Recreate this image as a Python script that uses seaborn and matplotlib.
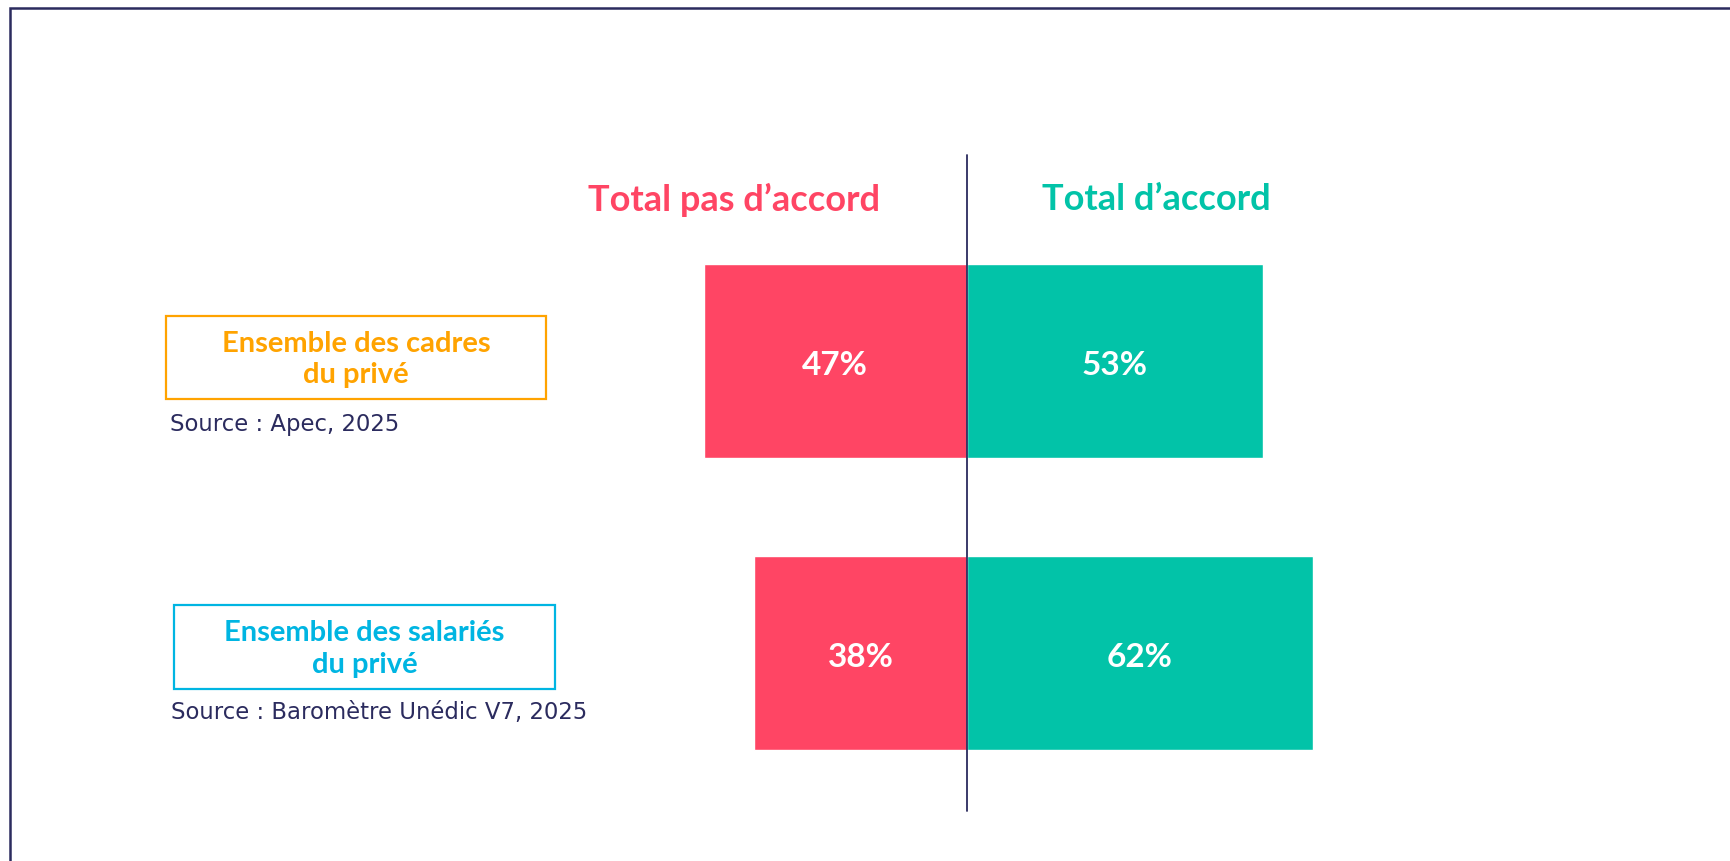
import numpy as np
import pandas as pd
import seaborn as sns
import matplotlib.pyplot as plt
from matplotlib.patches import Rectangle

# Data
groups = ["Ensemble des cadres\ndu privé", "Ensemble des salariés\ndu privé"]
sources = ["Source : Apec, 2025", "Source : Baromètre Unédic V7, 2025"]
disagree = [47, 38]
agree = [53, 62]
headers = ["Total pas d’accord", "Total d’accord"]

# Colours
RED = "#FF4564"
GREEN = "#02C3A8"
NAVY = "#2B2B5E"
GROUP_COLORS = ["#FFA300", "#00B5E2"]

W, H = 1730, 862
sns.set_theme(style="white")
plt.rcParams['font.family'] = ['Lato', 'DejaVu Sans']

fig = plt.figure(figsize=(W / 100, H / 100), dpi=100)
fig.patch.set_facecolor("white")
ax = fig.add_axes([0, 0, 1, 1])

df = pd.DataFrame({"group": groups, "disagree": disagree, "agree": agree})
df["neg"] = -df["disagree"]

bar_w = 0.664
sns.barplot(data=df, x="neg", y="group", color=RED, width=bar_w,
            saturation=1, ax=ax, orient="h")
sns.barplot(data=df, x="agree", y="group", color=GREEN, width=bar_w,
            saturation=1, ax=ax, orient="h")

# scale: 0 at x=966.5 px, 5.585 px per percent; bars centred at 362 / 654 px
px_per = 5.585
x0 = 966.5
ax.set_xlim(-x0 / px_per, (W - x0) / px_per)
ax.set_ylim((H - 362) / 292, -362 / 292)
ax.axis("off")

# value labels inside bars
for i, (d, a) in enumerate(zip(disagree, agree)):
    ax.text(-d / 2, i + 0.012, f"{d}%", color="white", fontsize=24,
            fontweight="bold", ha="center", va="center")
    ax.text(a / 2, i + 0.012, f"{a}%", color="white", fontsize=24,
            fontweight="bold", ha="center", va="center")

# central axis line
ax.axvline(0, ymin=1 - 812 / H, ymax=1 - 156 / H, color=NAVY, lw=1.3)

# column headers
fig.text(734 / W, 1 - 200 / H, headers[0], color=RED, fontsize=26,
         fontweight="bold", ha="center", va="center")
fig.text(1156 / W, 1 - 200 / H, headers[1], color=GREEN, fontsize=26,
         fontweight="bold", ha="center", va="center")

# group boxes and sources
boxes = [(165.7, 317, 546, 400), (174, 606, 555, 690)]
src_pos = [(170, 425), (171, 713)]
for (l, t, r, b), name, col, src, (sx, sy) in zip(boxes, groups, GROUP_COLORS,
                                                   sources, src_pos):
    fig.patches.append(Rectangle((l / W, 1 - b / H), (r - l) / W, (b - t) / H,
                                 transform=fig.transFigure, fill=False,
                                 edgecolor=col, lw=1.6))
    fig.text((l + r) / 2 / W, 1 - (t + b + 2) / 2 / H, name, color=col,
             fontsize=21, fontweight="bold", ha="center", va="center",
             linespacing=1.25)
    fig.text(sx / W, 1 - sy / H, src, color=NAVY, fontsize=16.4,
             family="DejaVu Sans", ha="left", va="center")

# outer frame (runs off the right and bottom edges)
fig.patches.append(Rectangle((10 / W, -0.1), 1.2, 1.1 - 9 / H,
                             transform=fig.transFigure, fill=False,
                             edgecolor=NAVY, lw=1.8))

fig.savefig("out.png", dpi=100)
